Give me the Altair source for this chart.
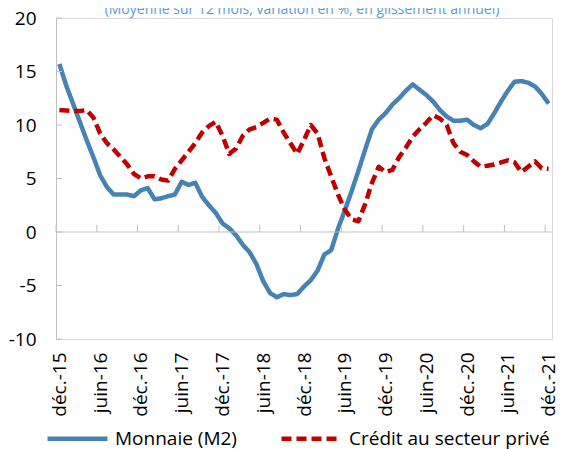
import altair as alt
import pandas as pd

FONT = "Open Sans"
BLUE = "#4682B4"
RED = "#C00000"
GREY = "#BFBFBF"

title_text = "(Moyenne sur 12 mois, variation en %, en glissement annuel)"

tick_labels = ["déc.-15", "juin-16", "déc.-16", "juin-17", "déc.-17", "juin-18", "déc.-18",
               "juin-19", "déc.-19", "juin-20", "déc.-20", "juin-21", "déc.-21"]

series_names = ["Monnaie (M2)", "Crédit au secteur privé"]

# monthly values, déc.-15 .. déc.-21 (73 months)
monnaie = [15.7, 13.7, 12.0, 10.3, 8.6, 7.0, 5.3, 4.2, 3.5, 3.5,
           3.5, 3.35, 3.9, 4.1, 3.05, 3.15, 3.35, 3.5, 4.7, 4.4,
           4.6, 3.3, 2.5, 1.8, 0.8, 0.35, -0.3, -1.2, -1.9, -3.0,
           -4.6, -5.7, -6.1, -5.8, -5.9, -5.8, -5.1, -4.5, -3.6, -2.1,
           -1.7, 0.3, 2.0, 3.8, 5.7, 7.7, 9.6, 10.5, 11.1, 11.9,
           12.5, 13.2, 13.8, 13.3, 12.8, 12.2, 11.4, 10.8, 10.4, 10.4,
           10.5, 10.0, 9.7, 10.1, 11.1, 12.2, 13.2, 14.05, 14.1, 13.95,
           13.6, 12.9, 12.0]

credit = [11.4, 11.35, 11.3, 11.3, 11.4, 10.7, 9.2, 8.3, 7.7, 7.0,
          6.3, 5.4, 5.0, 5.2, 5.2, 4.9, 4.8, 5.9, 6.7, 7.5,
          8.3, 9.3, 9.9, 10.3, 9.0, 7.3, 7.8, 9.0, 9.6, 9.8,
          10.2, 10.6, 10.5, 9.3, 8.3, 7.3, 8.6, 10.0, 9.2, 6.9,
          5.2, 3.5, 2.1, 1.2, 1.0, 2.6, 4.6, 6.1, 5.6, 5.8,
          7.0, 7.9, 8.9, 9.6, 10.2, 10.9, 10.6, 10.0, 8.3, 7.5,
          7.2, 6.6, 6.1, 6.2, 6.3, 6.5, 6.7, 6.5, 5.6, 6.1,
          6.6, 5.95, 5.9]

y_ticks = [-10, -5, 0, 5, 10, 15, 20]

n = len(monnaie)
rows = []
for i, v in enumerate(monnaie):
    rows.append({"i": i, "serie": series_names[0], "v": v})
for i, v in enumerate(credit):
    rows.append({"i": i, "serie": series_names[1], "v": v})
df = pd.DataFrame(rows)

xscale = alt.Scale(domain=[-0.5, n - 0.5], nice=False, zero=False)
yscale = alt.Scale(domain=[-10, 20], nice=False, zero=False)

label_expr = "[" + ",".join("'" + l + "'" for l in tick_labels) + "][round(datum.value/6)]"

xaxis = alt.Axis(values=list(range(0, n, 6)), labelExpr=label_expr, labelAngle=-90,
                 ticks=False, domain=False, grid=False, title=None, labelPadding=13,
                 labelFontSize=19, labelFont=FONT, labelColor="#000000")
yaxis = alt.Axis(values=y_ticks, ticks=False, grid=False, domainColor=GREY, title=None,
                 labelPadding=20, labelFontSize=19, labelFont=FONT, labelColor="#000000",
                 labelExpr="'' + datum.value")

legend = alt.Legend(
    title=None, orient="none", legendX=-11, legendY=388, direction="horizontal",
    symbolType="stroke", symbolSize=3600, symbolStrokeWidth=4.5,
    labelFontSize=19, labelFont=FONT, labelColor="#000000", labelOffset=5,
    labelLimit=400, columnPadding=35,
)

lines = alt.Chart(df).mark_line(strokeWidth=4.5, strokeCap="butt", strokeJoin="round").encode(
    x=alt.X("i:Q", scale=xscale, axis=xaxis),
    y=alt.Y("v:Q", scale=yscale, axis=yaxis),
    color=alt.Color("serie:N", scale=alt.Scale(domain=series_names, range=[BLUE, RED]), legend=legend),
    strokeDash=alt.StrokeDash("serie:N", scale=alt.Scale(domain=series_names, range=[[1, 0], [10, 5]]),
                              legend=legend),
)

zero_line = alt.Chart(pd.DataFrame({"z": [0]})).mark_rule(color=GREY, strokeWidth=1).encode(
    y=alt.Y("z:Q", scale=yscale, axis=yaxis)
)

xt = pd.DataFrame({"t": [-0.5 + 6 * k for k in range(13)], "z": [0] * 13})
x_ticks = alt.Chart(xt).mark_rule(color=GREY, strokeWidth=1, y2Offset=-7).encode(
    x=alt.X("t:Q", scale=xscale, axis=xaxis),
    y=alt.Y("z:Q", scale=yscale, axis=yaxis),
    y2="z:Q",
)

yt = pd.DataFrame({"yv": y_ticks, "x0": [-0.5] * len(y_ticks)})
y_tick_marks = alt.Chart(yt).mark_rule(color=GREY, strokeWidth=1, x2Offset=6).encode(
    x=alt.X("x0:Q", scale=xscale, axis=xaxis),
    x2="x0:Q",
    y=alt.Y("yv:Q", scale=yscale, axis=yaxis),
)

title_mark = alt.Chart(pd.DataFrame({"t": [title_text]})).mark_text(
    fontSize=14, font=FONT, color="#5B9BD5", baseline="alphabetic", align="center"
).encode(x=alt.value(246), y=alt.value(-4), text="t:N")

chart = alt.layer(lines, zero_line, x_ticks, y_tick_marks, title_mark).properties(
    width=496, height=321,
    autosize=alt.AutoSizeParams(type="none"),
    padding={"left": 48, "top": 10, "right": 4, "bottom": 110},
).configure_view(stroke="#D9D9D9", strokeWidth=1)

chart.save("out.html", embed_options={"renderer": "svg", "actions": False})
